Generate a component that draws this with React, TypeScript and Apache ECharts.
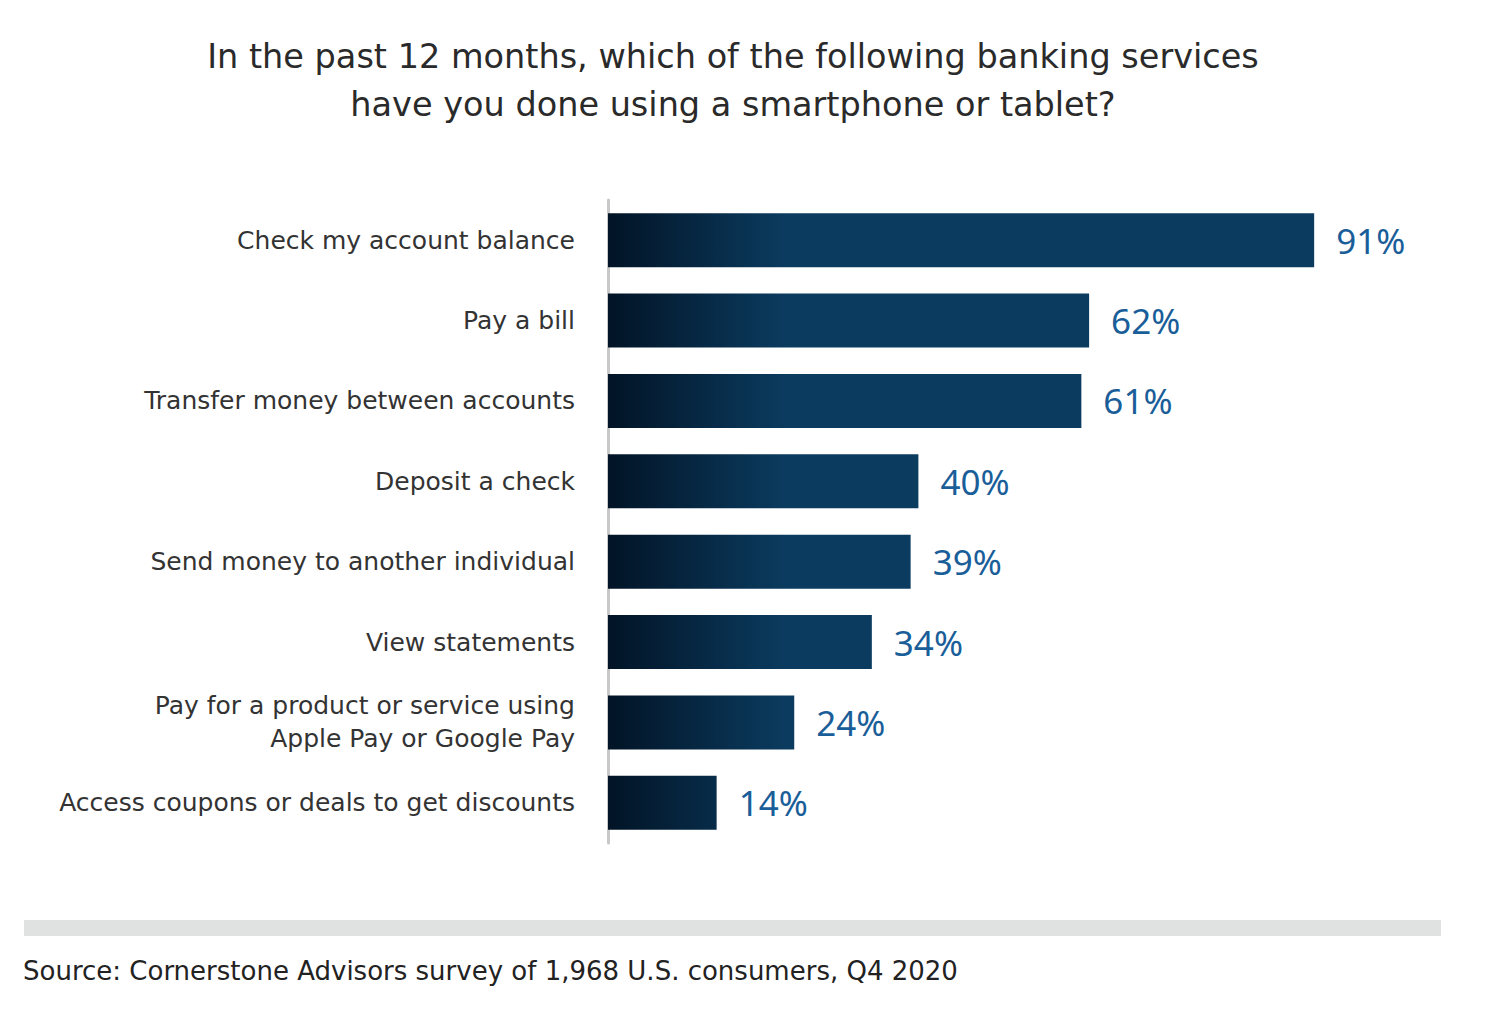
import React, { useEffect, useRef } from "react";
import * as echarts from "echarts";

const categories: string[] = [
  "Check my account balance",
  "Pay a bill",
  "Transfer money between accounts",
  "Deposit a check",
  "Send money to another individual",
  "View statements",
  "Pay for a product or service using\nApple Pay or Google Pay",
  "Access coupons or deals to get discounts",
];
const values: number[] = [91, 62, 61, 40, 39, 34, 24, 14];

const titleText = "In the past 12 months, which of the following banking services\nhave you done using a smartphone or tablet?";
const sourceText = "Source: Cornerstone Advisors survey of 1,968 U.S. consumers, Q4 2020";

const FONT = "'DejaVu Sans', sans-serif";
const VFONT = "'Noto Sans', sans-serif";

export default function App() {
  const ref = useRef<HTMLDivElement>(null);
  useEffect(() => {
    if (!ref.current) return;
    const chart = echarts.init(ref.current, null, { renderer: "svg" });
    const grad = new echarts.graphic.LinearGradient(
      600, 0, 782, 0,
      [
        { offset: 0, color: "#021426" },
        { offset: 1, color: "#0b3c60" },
      ],
      true
    );
    chart.setOption({
      animation: false,
      backgroundColor: "#ffffff",
      title: {
        text: titleText,
        left: 720,
        top: 19,
        textAlign: "center",
        textStyle: {
          fontFamily: FONT,
          fontSize: 33.5,
          fontWeight: "normal",
          color: "#2a2a2a",
          lineHeight: 48,
          align: "center",
        },
      },
      grid: { left: 600, right: 114, top: 192, height: 643 },
      xAxis: {
        type: "value",
        min: 0,
        max: 100,
        show: false,
      },
      yAxis: {
        type: "category",
        data: categories,
        inverse: true,
        offset: 2,
        axisLine: { show: true, lineStyle: { color: "#c8c8c8", width: 3 } },
        axisTick: { show: false },
        axisLabel: {
          margin: 31,
          fontFamily: FONT,
          fontSize: 25,
          color: "#333333",
          lineHeight: 33,
          align: "right",
        },
      },
      series: [
        {
          type: "bar",
          data: values,
          barWidth: 54,
          itemStyle: { color: grad },
          label: {
            show: true,
            position: "right",
            distance: 22,
            formatter: "{c}%",
            fontFamily: VFONT,
            fontSize: 35,
            color: "#1a5e99",
          },
        },
      ],
      graphic: [
        {
          type: "rect",
          shape: { x: 16, y: 912, width: 1417, height: 16 },
          style: { fill: "#e0e1e1" },
        },
        {
          type: "text",
          x: 15,
          y: 963,
          style: {
            text: sourceText,
            fontFamily: FONT,
            fontSize: 26,
            fill: "#222222",
            textVerticalAlign: "middle",
          },
        },
      ],
    });
    return () => chart.dispose();
  }, []);
  return <div ref={ref} style={{ width: 1490, height: 1006 }} />;
}
